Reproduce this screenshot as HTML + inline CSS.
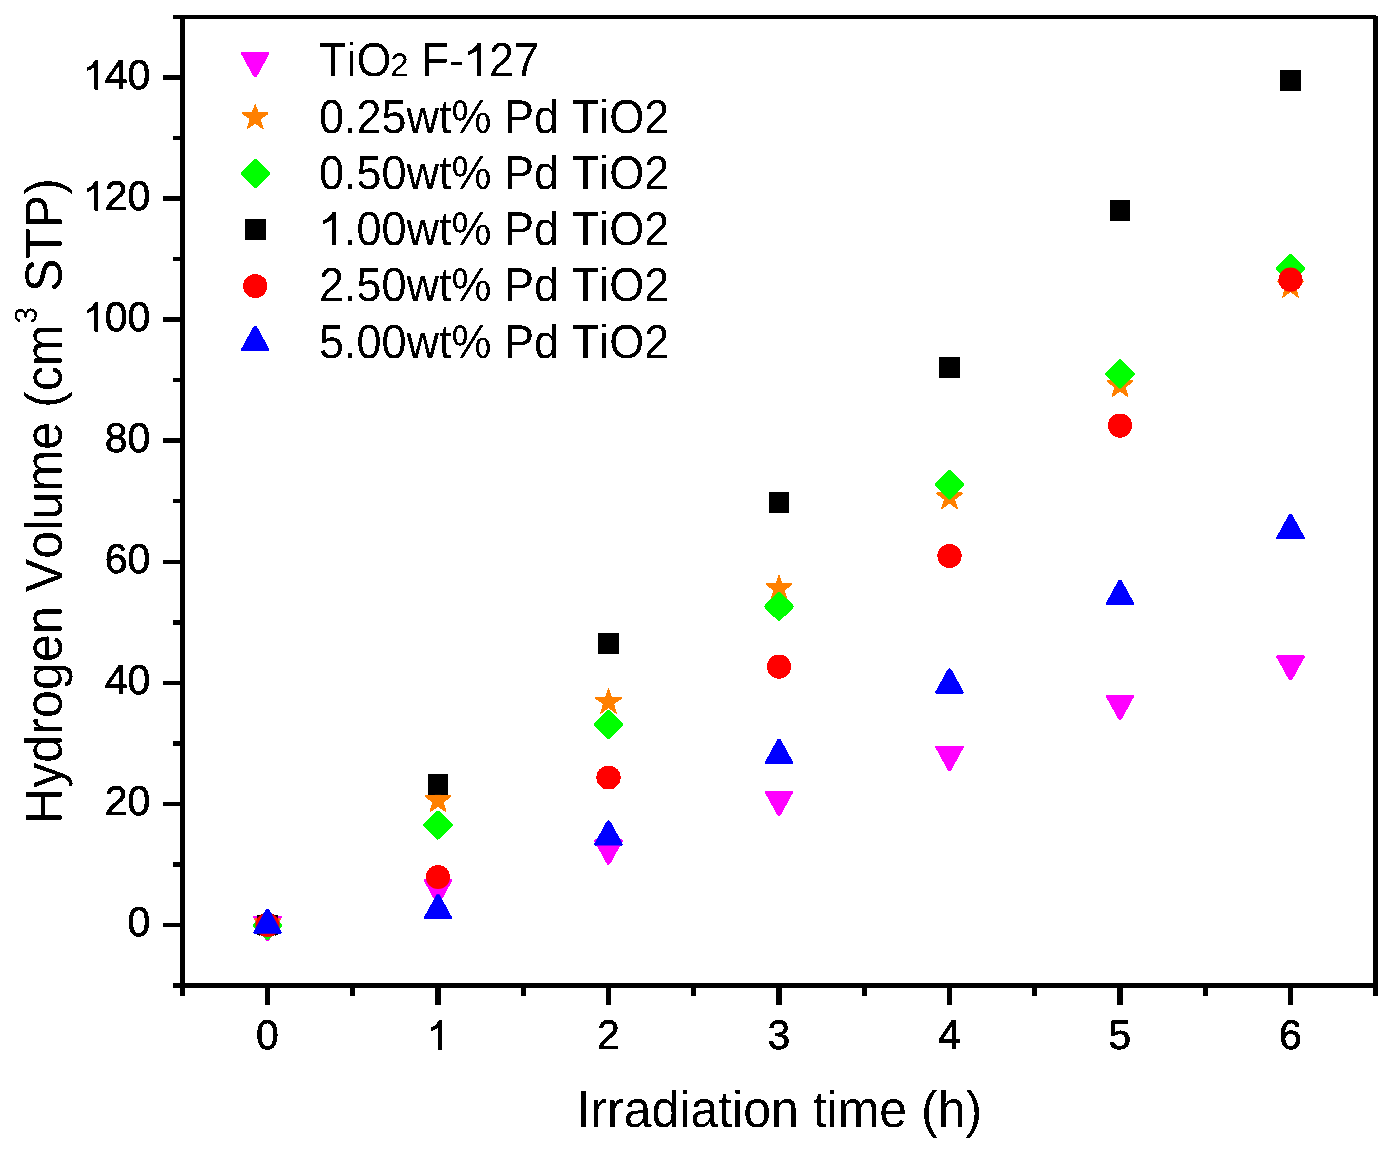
<!DOCTYPE html><html><head><meta charset="utf-8"><style>html,body{margin:0;padding:0;background:#fff;}svg{display:block;}text{font-family:"Liberation Sans",sans-serif;fill:#000;font-kerning:none;font-variant-ligatures:none;text-rendering:geometricPrecision;white-space:pre;}</style></head><body>
<svg width="1392" height="1154" viewBox="0 0 1392 1154">
<rect x="0" y="0" width="1392" height="1154" fill="#fff"/>
<defs><filter id="al" filterUnits="userSpaceOnUse" x="0" y="0" width="1392" height="1154" color-interpolation-filters="sRGB"><feComponentTransfer><feFuncA type="discrete" tableValues="0 1"/></feComponentTransfer></filter></defs>
<g filter="url(#al)">
<g><rect x="173.00" y="15.00" width="1203.00" height="4.00" fill="#000"/><rect x="173.00" y="983.00" width="1205.00" height="5.00" fill="#000"/><rect x="180.00" y="15.00" width="5.00" height="981.00" fill="#000"/><rect x="1373.00" y="16.00" width="5.00" height="980.00" fill="#000"/><rect x="163.00" y="922.75" width="17.00" height="4.50" fill="#000"/><rect x="163.00" y="801.67" width="17.00" height="4.50" fill="#000"/><rect x="163.00" y="680.59" width="17.00" height="4.50" fill="#000"/><rect x="163.00" y="559.51" width="17.00" height="4.50" fill="#000"/><rect x="163.00" y="438.43" width="17.00" height="4.50" fill="#000"/><rect x="163.00" y="317.35" width="17.00" height="4.50" fill="#000"/><rect x="163.00" y="196.27" width="17.00" height="4.50" fill="#000"/><rect x="163.00" y="75.19" width="17.00" height="4.50" fill="#000"/><rect x="173.00" y="862.21" width="7.00" height="4.50" fill="#000"/><rect x="173.00" y="741.13" width="7.00" height="4.50" fill="#000"/><rect x="173.00" y="620.05" width="7.00" height="4.50" fill="#000"/><rect x="173.00" y="498.97" width="7.00" height="4.50" fill="#000"/><rect x="173.00" y="377.89" width="7.00" height="4.50" fill="#000"/><rect x="173.00" y="256.81" width="7.00" height="4.50" fill="#000"/><rect x="173.00" y="135.73" width="7.00" height="4.50" fill="#000"/><rect x="265.00" y="988.00" width="5.00" height="17.00" fill="#000"/><rect x="435.50" y="988.00" width="5.00" height="17.00" fill="#000"/><rect x="606.00" y="988.00" width="5.00" height="17.00" fill="#000"/><rect x="776.50" y="988.00" width="5.00" height="17.00" fill="#000"/><rect x="947.00" y="988.00" width="5.00" height="17.00" fill="#000"/><rect x="1117.50" y="988.00" width="5.00" height="17.00" fill="#000"/><rect x="1288.00" y="988.00" width="5.00" height="17.00" fill="#000"/><rect x="350.25" y="988.00" width="5.00" height="8.00" fill="#000"/><rect x="520.75" y="988.00" width="5.00" height="8.00" fill="#000"/><rect x="691.25" y="988.00" width="5.00" height="8.00" fill="#000"/><rect x="861.75" y="988.00" width="5.00" height="8.00" fill="#000"/><rect x="1032.25" y="988.00" width="5.00" height="8.00" fill="#000"/><rect x="1202.75" y="988.00" width="5.00" height="8.00" fill="#000"/><rect x="1373.25" y="988.00" width="5.00" height="8.00" fill="#000"/></g>
<text transform="translate(256.10,1049.10) scale(1.00000,1.01000)" font-size="41.0" stroke="#000" stroke-width="0.600">0</text>
<path transform="translate(426.60,1049.10) scale(0.02002,-0.02022)" d="M763,-40 L583,-40 L583,1080 Q420,950 222,891 L222,1057 Q470,1160 610,1430 L763,1430 Z" fill="#000" stroke="#000" stroke-width="9.99"/>
<text transform="translate(597.10,1049.10) scale(1.00000,1.01000)" font-size="41.0" stroke="#000" stroke-width="0.600">2</text>
<text transform="translate(767.60,1049.10) scale(1.00000,1.01000)" font-size="41.0" stroke="#000" stroke-width="0.600">3</text>
<text transform="translate(938.10,1049.10) scale(1.00000,1.01000)" font-size="41.0" stroke="#000" stroke-width="0.600">4</text>
<text transform="translate(1108.60,1049.10) scale(1.00000,1.01000)" font-size="41.0" stroke="#000" stroke-width="0.600">5</text>
<text transform="translate(1279.10,1049.10) scale(1.00000,1.01000)" font-size="41.0" stroke="#000" stroke-width="0.600">6</text>
<text transform="translate(127.50,936.40) scale(1.00000,1.01000)" font-size="41.0" stroke="#000" stroke-width="0.600">0</text>
<text transform="translate(104.70,815.32) scale(1.00000,1.01000)" font-size="41.0" stroke="#000" stroke-width="0.600">2</text><text transform="translate(127.50,815.32) scale(1.00000,1.01000)" font-size="41.0" stroke="#000" stroke-width="0.600">0</text>
<text transform="translate(104.70,694.24) scale(1.00000,1.01000)" font-size="41.0" stroke="#000" stroke-width="0.600">4</text><text transform="translate(127.50,694.24) scale(1.00000,1.01000)" font-size="41.0" stroke="#000" stroke-width="0.600">0</text>
<text transform="translate(104.70,573.16) scale(1.00000,1.01000)" font-size="41.0" stroke="#000" stroke-width="0.600">6</text><text transform="translate(127.50,573.16) scale(1.00000,1.01000)" font-size="41.0" stroke="#000" stroke-width="0.600">0</text>
<text transform="translate(104.70,452.08) scale(1.00000,1.01000)" font-size="41.0" stroke="#000" stroke-width="0.600">8</text><text transform="translate(127.50,452.08) scale(1.00000,1.01000)" font-size="41.0" stroke="#000" stroke-width="0.600">0</text>
<path transform="translate(82.89,331.00) scale(0.02002,-0.02022)" d="M763,-40 L583,-40 L583,1080 Q420,950 222,891 L222,1057 Q470,1160 610,1430 L763,1430 Z" fill="#000" stroke="#000" stroke-width="9.99"/><text transform="translate(104.70,331.00) scale(1.00000,1.01000)" font-size="41.0" stroke="#000" stroke-width="0.600">0</text><text transform="translate(127.50,331.00) scale(1.00000,1.01000)" font-size="41.0" stroke="#000" stroke-width="0.600">0</text>
<path transform="translate(82.89,209.92) scale(0.02002,-0.02022)" d="M763,-40 L583,-40 L583,1080 Q420,950 222,891 L222,1057 Q470,1160 610,1430 L763,1430 Z" fill="#000" stroke="#000" stroke-width="9.99"/><text transform="translate(104.70,209.92) scale(1.00000,1.01000)" font-size="41.0" stroke="#000" stroke-width="0.600">2</text><text transform="translate(127.50,209.92) scale(1.00000,1.01000)" font-size="41.0" stroke="#000" stroke-width="0.600">0</text>
<path transform="translate(82.89,88.84) scale(0.02002,-0.02022)" d="M763,-40 L583,-40 L583,1080 Q420,950 222,891 L222,1057 Q470,1160 610,1430 L763,1430 Z" fill="#000" stroke="#000" stroke-width="9.99"/><text transform="translate(104.70,88.84) scale(1.00000,1.01000)" font-size="41.0" stroke="#000" stroke-width="0.600">4</text><text transform="translate(127.50,88.84) scale(1.00000,1.01000)" font-size="41.0" stroke="#000" stroke-width="0.600">0</text>
<g><polygon points="253.50,916.00 281.50,916.00 281.50,918.00 268.90,941.00 266.10,941.00 253.50,918.00" fill="#ff00ff"/><polygon points="424.00,879.10 452.00,879.10 452.00,881.10 439.40,904.10 436.60,904.10 424.00,881.10" fill="#ff00ff"/><polygon points="594.50,839.60 622.50,839.60 622.50,841.60 609.90,864.60 607.10,864.60 594.50,841.60" fill="#ff00ff"/><polygon points="765.00,790.70 793.00,790.70 793.00,792.70 780.40,815.70 777.60,815.70 765.00,792.70" fill="#ff00ff"/><polygon points="935.50,745.80 963.50,745.80 963.50,747.80 950.90,770.80 948.10,770.80 935.50,747.80" fill="#ff00ff"/><polygon points="1106.00,694.80 1134.00,694.80 1134.00,696.80 1121.40,719.80 1118.60,719.80 1106.00,696.80" fill="#ff00ff"/><polygon points="1276.50,655.20 1304.50,655.20 1304.50,657.20 1291.90,680.20 1289.10,680.20 1276.50,657.20" fill="#ff00ff"/><polygon points="267.50,909.00 270.80,918.20 280.60,918.20 280.60,920.20 273.10,925.40 276.10,935.20 274.90,935.20 267.50,929.80 260.10,935.20 258.90,935.20 261.90,925.40 254.40,920.20 254.40,918.20 264.20,918.20" fill="#ff8000"/><polygon points="438.00,785.90 441.30,795.10 451.10,795.10 451.10,797.10 443.60,802.30 446.60,812.10 445.40,812.10 438.00,806.70 430.60,812.10 429.40,812.10 432.40,802.30 424.90,797.10 424.90,795.10 434.70,795.10" fill="#ff8000"/><polygon points="608.50,687.50 611.80,696.70 621.60,696.70 621.60,698.70 614.10,703.90 617.10,713.70 615.90,713.70 608.50,708.30 601.10,713.70 599.90,713.70 602.90,703.90 595.40,698.70 595.40,696.70 605.20,696.70" fill="#ff8000"/><polygon points="779.00,573.85 782.30,583.05 792.10,583.05 792.10,585.05 784.60,590.25 787.60,600.05 786.40,600.05 779.00,594.65 771.60,600.05 770.40,600.05 773.40,590.25 765.90,585.05 765.90,583.05 775.70,583.05" fill="#ff8000"/><polygon points="949.50,483.05 952.80,492.25 962.60,492.25 962.60,494.25 955.10,499.45 958.10,509.25 956.90,509.25 949.50,503.85 942.10,509.25 940.90,509.25 943.90,499.45 936.40,494.25 936.40,492.25 946.20,492.25" fill="#ff8000"/><polygon points="1120.00,370.75 1123.30,379.95 1133.10,379.95 1133.10,381.95 1125.60,387.15 1128.60,396.95 1127.40,396.95 1120.00,391.55 1112.60,396.95 1111.40,396.95 1114.40,387.15 1106.90,381.95 1106.90,379.95 1116.70,379.95" fill="#ff8000"/><polygon points="1290.50,271.40 1293.80,280.60 1303.60,280.60 1303.60,282.60 1296.10,287.80 1299.10,297.60 1297.90,297.60 1290.50,292.20 1283.10,297.60 1281.90,297.60 1284.90,287.80 1277.40,282.60 1277.40,280.60 1287.20,280.60" fill="#ff8000"/><polygon points="266.60,910.70 268.40,910.70 282.10,924.40 282.10,926.20 268.40,939.90 266.60,939.90 252.90,926.20 252.90,924.40" fill="#00ff00"/><polygon points="437.10,810.40 438.90,810.40 452.60,824.10 452.60,825.90 438.90,839.60 437.10,839.60 423.40,825.90 423.40,824.10" fill="#00ff00"/><polygon points="607.60,710.10 609.40,710.10 623.10,723.80 623.10,725.60 609.40,739.30 607.60,739.30 593.90,725.60 593.90,723.80" fill="#00ff00"/><polygon points="778.10,591.90 779.90,591.90 793.60,605.60 793.60,607.40 779.90,621.10 778.10,621.10 764.40,607.40 764.40,605.60" fill="#00ff00"/><polygon points="948.60,470.30 950.40,470.30 964.10,484.00 964.10,485.80 950.40,499.50 948.60,499.50 934.90,485.80 934.90,484.00" fill="#00ff00"/><polygon points="1119.10,359.30 1120.90,359.30 1134.60,373.00 1134.60,374.80 1120.90,388.50 1119.10,388.50 1105.40,374.80 1105.40,373.00" fill="#00ff00"/><polygon points="1289.60,253.70 1291.40,253.70 1305.10,267.40 1305.10,269.20 1291.40,282.90 1289.60,282.90 1275.90,269.20 1275.90,267.40" fill="#00ff00"/><rect x="257.10" y="914.60" width="20.80" height="20.80" fill="#000000"/><rect x="427.60" y="774.10" width="20.80" height="20.80" fill="#000000"/><rect x="598.10" y="632.90" width="20.80" height="20.80" fill="#000000"/><rect x="768.60" y="492.50" width="20.80" height="20.80" fill="#000000"/><rect x="939.10" y="357.00" width="20.80" height="20.80" fill="#000000"/><rect x="1109.60" y="200.40" width="20.80" height="20.80" fill="#000000"/><rect x="1280.10" y="69.80" width="20.80" height="20.80" fill="#000000"/><circle cx="267.50" cy="925.00" r="12.1" fill="#ff0000"/><circle cx="438.00" cy="877.00" r="12.1" fill="#ff0000"/><circle cx="608.50" cy="777.50" r="12.1" fill="#ff0000"/><circle cx="779.00" cy="666.70" r="12.1" fill="#ff0000"/><circle cx="949.50" cy="556.00" r="12.1" fill="#ff0000"/><circle cx="1120.00" cy="425.60" r="12.1" fill="#ff0000"/><circle cx="1290.50" cy="279.70" r="12.1" fill="#ff0000"/><polygon points="253.50,933.80 281.50,933.80 281.50,931.80 268.90,908.80 266.10,908.80 253.50,931.80" fill="#0000ff"/><polygon points="424.00,919.20 452.00,919.20 452.00,917.20 439.40,894.20 436.60,894.20 424.00,917.20" fill="#0000ff"/><polygon points="594.50,845.50 622.50,845.50 622.50,843.50 609.90,820.50 607.10,820.50 594.50,843.50" fill="#0000ff"/><polygon points="765.00,764.00 793.00,764.00 793.00,762.00 780.40,739.00 777.60,739.00 765.00,762.00" fill="#0000ff"/><polygon points="935.50,693.60 963.50,693.60 963.50,691.60 950.90,668.60 948.10,668.60 935.50,691.60" fill="#0000ff"/><polygon points="1106.00,605.00 1134.00,605.00 1134.00,603.00 1121.40,580.00 1118.60,580.00 1106.00,603.00" fill="#0000ff"/><polygon points="1276.50,539.00 1304.50,539.00 1304.50,537.00 1291.90,514.00 1289.10,514.00 1276.50,537.00" fill="#0000ff"/></g>
<g><polygon points="241.20,52.00 269.20,52.00 269.20,54.00 256.60,77.00 253.80,77.00 241.20,54.00" fill="#ff00ff"/><text transform="translate(319,75.9) scale(1,1.056)" font-size="45">TiO</text><text transform="translate(390.3,75.9) scale(1,0.994)" font-size="33">2</text><text transform="translate(409,75.9) scale(1,1.056)" font-size="45" xml:space="preserve"> F-</text><path transform="translate(463.98,75.90) scale(0.02197,-0.02320)" d="M763,0 L583,0 L583,1080 Q420,950 180,891 L180,1057 Q470,1160 610,1410 L763,1410 Z" fill="#000"/><text transform="translate(489.003,75.9) scale(1,1.056)" font-size="45">27</text><polygon points="255.20,102.90 258.50,112.10 268.30,112.10 268.30,114.10 260.80,119.30 263.80,129.10 262.60,129.10 255.20,123.70 247.80,129.10 246.60,129.10 249.60,119.30 242.10,114.10 242.10,112.10 251.90,112.10" fill="#ff8000"/><text transform="translate(319,132.7) scale(1,1.056)" font-size="45">0.25wt% Pd TiO2</text><polygon points="254.30,158.85 256.10,158.85 269.80,172.55 269.80,174.35 256.10,188.05 254.30,188.05 240.60,174.35 240.60,172.55" fill="#00ff00"/><text transform="translate(319,188.9) scale(1,1.056)" font-size="45">0.50wt% Pd TiO2</text><rect x="244.80" y="219.10" width="20.80" height="20.80" fill="#000000"/><path transform="translate(319.00,244.90) scale(0.02197,-0.02320)" d="M763,0 L583,0 L583,1080 Q420,950 180,891 L180,1057 Q470,1160 610,1410 L763,1410 Z" fill="#000"/><text transform="translate(344.027,244.9) scale(1,1.056)" font-size="45">.00wt% Pd TiO2</text><circle cx="255.20" cy="286.00" r="12.1" fill="#ff0000"/><text transform="translate(319,300.9) scale(1,1.056)" font-size="45">2.50wt% Pd TiO2</text><polygon points="241.20,351.00 269.20,351.00 269.20,349.00 256.60,326.00 253.80,326.00 241.20,349.00" fill="#0000ff"/><text transform="translate(319,357.6) scale(1,1.056)" font-size="45">5.00wt% Pd TiO2</text></g>
<text transform="translate(576.46,1126.8) scale(1,1.038)" font-size="50">Irradiation time (h)</text>
<g transform="translate(62,824) rotate(-90) scale(1,1.048)"><text x="0" y="0" font-size="50" letter-spacing="0.13">Hydrogen Volume (cm</text><text x="500.3" y="-24.2" font-size="30">3</text><text x="518" y="0" font-size="50" xml:space="preserve"> STP)</text></g>
</g>
</svg></body></html>
